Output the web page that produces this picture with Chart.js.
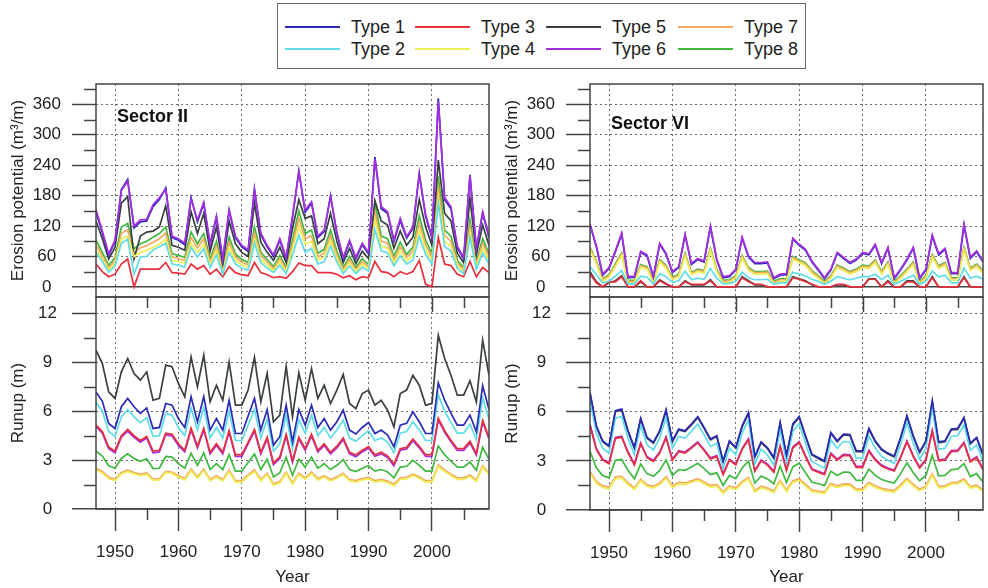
<!DOCTYPE html>
<html lang="en">
<head>
<meta charset="UTF-8">
<title>Erosion potential and runup – Sectors II and VI</title>
<script src="https://cdn.jsdelivr.net/npm/chart.js@4"></script>
<style>
  body { margin: 0; background: #fff; font-family: "Liberation Sans", Arial, sans-serif; }
  #wrap { position: relative; width: 988px; height: 588px; overflow: hidden; }
  canvas { position: absolute; top: 0; }
  #legend { position: absolute; left: 277px; top: 3px; width: 529px; height: 66px; border: 1px solid #666; box-sizing: border-box; }
  .key { position: absolute; height: 2px; width: 55px; }
  .lab { position: absolute; font-size: 18px; line-height: 20px; color: #222; white-space: nowrap; }
</style>
</head>
<body>
<div id="wrap">
  <div id="legend"></div>
  <canvas id="epII" width="494" height="588" style="left:0"></canvas>
  <canvas id="ruII" width="494" height="588" style="left:0"></canvas>
  <canvas id="epVI" width="494" height="588" style="left:494px"></canvas>
  <canvas id="ruVI" width="494" height="588" style="left:494px"></canvas>
</div>
<script>
const years = [1947,1948,1949,1950,1951,1952,1953,1954,1955,1956,
  1957,1958,1959,1960,1961,1962,1963,1964,1965,1966,
  1967,1968,1969,1970,1971,1972,1973,1974,1975,1976,
  1977,1978,1979,1980,1981,1982,1983,1984,1985,1986,
  1987,1988,1989,1990,1991,1992,1993,1994,1995,1996,
  1997,1998,1999,2000,2001,2002,2003,2004,2005,2006,
  2007,2008,2009];

const typeNames = ['Type 1','Type 2','Type 3','Type 4','Type 5','Type 6','Type 7','Type 8'];
const typeColors = ['#2b2bb5','#5fdcea','#e8303c','#eeee55','#3a4040','#a32fe0','#f5a860','#3fb83f'];

const yearTicks = [1950,1960,1970,1980,1990,2000];
const yearMinor = [1955,1965,1975,1985,1995,2005];
const erosionTicks = [0,60,120,180,240,300,360];
const erosionMinor = [30,90,150,210,270,330,390];
const runupTicks = [0,3,6,9,12];
const runupMinor = [1.5,4.5,7.5,10.5];

// Sector II, erosion potential (m3/m)
const epII1 = [148,106,62,90,192,212,116,128,130,158,
  172,195,97,92,83,176,128,164,82,137,
  52,150,97,79,70,193,103,79,60,92,
  55,136,229,147,165,97,109,180,105,55,
  89,55,83,65,256,154,145,89,131,96,
  115,224,139,96,372,172,154,77,55,221,
  74,145,97];
const epII2 = [68,50,29,41,86,94,25,59,60,73,
  79,86,45,43,39,78,59,75,38,63,
  25,68,45,37,33,86,48,37,28,43,
  26,63,102,68,76,45,50,80,49,26,
  41,26,39,31,113,71,67,41,61,45,
  53,99,64,45,165,79,71,36,26,98,
  35,67,45];
const epII3 = [45,30,20,25,45,55,0,35,35,35,
  35,48,28,27,25,45,35,42,25,35,
  20,40,28,24,22,48,28,24,18,20,
  17,30,47,42,42,28,28,28,25,18,
  22,14,20,18,50,30,28,20,30,25,
  30,52,5,0,97,45,42,25,20,50,
  20,38,28];
const epII4 = [74,54,34,46,94,100,60,68,72,78,
  84,94,52,50,46,86,68,84,44,72,
  28,78,52,43,38,94,54,43,32,50,
  30,74,120,84,90,53,59,90,56,30,
  48,30,45,35,132,80,76,48,70,51,
  62,112,74,51,175,90,80,42,30,106,
  40,76,52];
const epII5 = [130,95,55,78,165,178,55,100,108,110,
  118,160,82,78,72,148,105,145,70,118,
  45,130,85,68,60,165,88,68,52,78,
  48,115,172,135,140,85,95,145,90,48,
  76,46,70,56,170,130,122,76,110,82,
  98,172,118,82,250,145,130,66,48,175,
  64,122,82];
const epII6 = [152,110,65,92,190,208,120,132,133,162,
  176,192,100,95,86,173,132,167,85,140,
  55,152,100,82,73,190,106,82,63,95,
  58,140,226,151,168,100,112,177,108,58,
  92,58,86,68,252,158,148,92,135,99,
  118,221,142,99,366,176,158,80,58,218,
  77,148,100];
const epII7 = [83,61,38,52,106,112,68,77,81,88,
  95,106,59,56,52,97,77,95,50,81,
  32,88,59,49,43,106,61,49,36,56,
  34,83,135,95,101,59,67,101,63,34,
  54,34,50,40,148,90,86,54,79,58,
  70,126,83,58,196,101,90,47,34,119,
  45,86,59];
const epII8 = [92,68,42,58,118,125,75,85,90,98,
  105,118,65,62,58,108,85,105,55,90,
  35,98,65,54,48,118,68,54,40,62,
  38,92,150,105,112,66,74,112,70,38,
  60,38,56,44,165,100,95,60,88,64,
  78,140,92,64,218,112,100,52,38,132,
  50,95,65];

// Sector II, runup (m)
const ruII1 = [7.18,6.60,5.25,4.94,6.27,6.78,6.27,5.86,6.20,4.94,
  5.00,6.47,6.37,5.55,5.00,6.88,5.35,6.90,4.84,5.55,
  4.84,6.67,4.63,4.63,5.70,6.78,4.84,6.10,3.92,4.43,
  6.37,4.12,6.10,5.14,6.37,5.00,5.55,4.84,5.35,6.06,
  4.84,4.60,5.00,5.30,4.63,4.84,4.53,3.82,5.14,5.25,
  5.96,5.35,4.63,4.63,7.74,6.67,5.86,5.14,5.14,5.76,
  4.73,7.55,6.10];
const ruII2 = [6.55,6.00,4.75,4.45,5.65,6.10,5.65,5.30,5.60,4.45,
  4.50,5.85,5.75,5.00,4.50,6.20,4.85,6.20,4.35,5.00,
  4.35,6.00,4.20,4.20,5.15,6.10,4.35,5.50,3.55,4.00,
  5.75,3.70,5.50,4.65,5.75,4.50,5.00,4.35,4.85,5.45,
  4.35,4.15,4.50,4.80,4.20,4.35,4.10,3.45,4.65,4.75,
  5.35,4.85,4.20,4.20,7.00,6.00,5.30,4.65,4.65,5.20,
  4.25,6.80,5.50];
const ruII3 = [5.15,4.75,3.80,3.55,4.50,4.88,4.50,4.20,4.45,3.55,
  3.60,4.65,4.58,4.00,3.60,4.95,3.85,4.95,3.48,4.00,
  3.48,4.80,3.33,3.33,4.10,4.88,3.48,4.40,2.82,3.19,
  4.58,2.96,4.40,3.70,4.58,3.60,4.00,3.48,3.85,4.36,
  3.48,3.31,3.60,3.82,3.33,3.48,3.26,2.75,3.70,3.78,
  4.29,3.85,3.33,3.33,5.57,4.80,4.22,3.70,3.70,4.15,
  3.40,5.44,4.39];
const ruII4 = [2.40,2.20,1.85,1.75,2.15,2.30,2.15,2.05,2.12,1.75,
  1.78,2.22,2.18,1.95,1.78,2.35,1.88,2.36,1.72,1.95,
  1.72,2.28,1.65,1.65,2.00,2.30,1.72,2.10,1.45,1.60,
  2.18,1.52,2.10,1.82,2.18,1.78,1.95,1.72,1.88,2.10,
  1.72,1.65,1.78,1.85,1.65,1.72,1.62,1.42,1.82,1.85,
  2.05,1.88,1.65,1.65,2.60,2.30,2.05,1.82,1.82,2.00,
  1.68,2.55,2.10];
const ruII5 = [9.74,8.92,7.18,6.78,8.41,9.23,8.31,7.90,8.41,6.67,
  6.78,8.82,8.72,7.70,6.88,9.33,7.49,9.43,6.57,7.59,
  6.67,9.02,6.37,6.37,7.30,9.30,6.57,8.31,5.35,5.76,
  8.76,5.65,8.35,6.67,8.61,6.78,7.59,6.47,7.29,8.25,
  6.47,6.16,7.08,7.29,6.37,6.67,6.06,5.04,7.08,7.29,
  8.20,7.59,6.37,6.47,10.65,9.23,8.20,6.98,6.98,7.86,
  6.57,10.35,8.20];
const ruII6 = [5.05,4.65,3.70,3.45,4.40,4.78,4.40,4.10,4.35,3.45,
  3.50,4.55,4.48,3.90,3.50,4.85,3.75,4.85,3.38,3.90,
  3.38,4.70,3.23,3.23,4.00,4.78,3.38,4.30,2.72,3.09,
  4.48,2.86,4.30,3.60,4.48,3.50,3.90,3.38,3.75,4.26,
  3.38,3.21,3.50,3.72,3.23,3.38,3.16,2.65,3.60,3.68,
  4.19,3.75,3.23,3.23,5.47,4.70,4.12,3.60,3.60,4.05,
  3.30,5.34,4.29];
const ruII7 = [2.50,2.30,1.94,1.84,2.24,2.40,2.24,2.14,2.21,1.84,
  1.87,2.31,2.27,2.04,1.87,2.45,1.97,2.46,1.81,2.04,
  1.81,2.38,1.74,1.74,2.09,2.40,1.81,2.19,1.54,1.69,
  2.27,1.61,2.19,1.91,2.27,1.87,2.04,1.81,1.97,2.19,
  1.81,1.74,1.87,1.94,1.74,1.81,1.71,1.51,1.91,1.94,
  2.14,1.97,1.74,1.74,2.70,2.40,2.14,1.91,1.91,2.09,
  1.77,2.65,2.19];
const ruII8 = [3.55,3.25,2.65,2.50,3.10,3.38,3.10,2.92,3.08,2.48,
  2.50,3.22,3.18,2.78,2.50,3.42,2.68,3.44,2.42,2.78,
  2.42,3.32,2.32,2.32,2.85,3.38,2.42,3.05,1.96,2.22,
  3.18,2.06,3.05,2.57,3.18,2.50,2.78,2.42,2.68,3.03,
  2.42,2.30,2.50,2.65,2.32,2.42,2.27,1.91,2.57,2.62,
  2.98,2.68,2.32,2.32,3.87,3.33,2.93,2.57,2.57,2.88,
  2.37,3.78,3.05];

// Sector VI, erosion potential (m3/m)
const epVI1 = [122,79,23,36,69,104,18,19,68,61,
  19,84,64,28,38,102,44,54,49,117,
  53,18,20,33,96,59,46,46,47,16,
  23,24,94,82,72,49,33,16,33,66,
  56,46,53,66,63,82,46,76,16,33,
  53,76,16,33,100,63,74,26,26,121,
  56,69,49];
const epVI2 = [40,24,8,11,21,32,6,6,21,19,
  6,26,20,9,12,31,14,17,15,36,
  17,6,7,11,29,18,14,14,15,5,
  8,8,29,25,22,15,11,5,11,20,
  17,14,17,20,20,25,14,23,5,11,
  17,23,5,11,31,20,23,8,8,37,
  17,21,15];
const epVI3 = [25,8,0,10,10,20,0,0,12,0,
  0,12,5,0,0,10,5,5,5,12,
  0,0,0,0,18,10,5,5,0,0,
  0,0,18,15,10,5,0,0,0,5,
  5,0,0,0,15,15,0,10,0,0,
  10,10,0,0,18,0,0,0,0,18,
  0,0,0];
const epVI4 = [73,46,11,19,40,62,8,8,39,35,
  8,49,37,14,20,61,24,30,27,71,
  30,8,9,17,57,33,25,25,26,6,
  11,11,55,48,42,27,17,6,17,38,
  32,25,30,38,36,48,25,44,6,17,
  30,44,6,17,59,36,43,13,13,73,
  32,40,27];
const epVI5 = [30,10,0,8,12,22,0,0,10,0,
  0,14,6,0,0,12,4,4,4,14,
  0,0,0,0,20,12,4,4,0,0,
  0,0,20,16,12,4,0,0,0,4,
  4,0,0,0,16,16,0,12,0,0,
  12,12,0,0,20,0,0,0,0,20,
  0,0,0];
const epVI6 = [124,81,25,38,71,106,20,21,70,63,
  21,86,66,30,40,104,46,56,51,120,
  55,20,22,35,98,61,48,48,49,18,
  25,26,96,84,74,51,35,18,35,68,
  58,48,55,68,65,84,48,78,18,35,
  55,78,18,35,102,65,76,28,28,124,
  58,71,51];
const epVI7 = [76,49,14,22,43,65,11,11,42,38,
  11,52,40,17,23,64,27,33,30,74,
  33,11,12,20,60,36,28,28,29,9,
  14,14,58,51,45,30,20,9,20,41,
  35,28,33,41,39,51,28,47,9,20,
  33,47,9,20,62,39,46,16,16,76,
  35,43,30];
const epVI8 = [78,51,16,24,45,67,13,13,44,40,
  13,54,42,19,25,66,29,35,32,76,
  35,13,14,22,62,38,30,30,31,11,
  16,16,60,53,47,32,22,11,22,43,
  37,30,35,43,41,53,30,49,11,22,
  35,49,11,22,64,41,48,18,18,78,
  37,45,32];

// Sector VI, runup (m)
const ruVI1 = [7.18,5.14,4.22,3.92,6.06,6.16,4.84,3.82,5.60,4.43,
  4.12,4.84,6.12,4.22,4.94,4.84,5.25,5.70,5.04,4.33,
  4.53,3.00,4.22,3.82,5.14,5.96,3.27,4.16,3.80,3.20,
  5.35,3.35,5.25,5.71,4.53,3.41,3.20,3.00,4.73,4.22,
  4.63,4.60,3.61,3.61,4.98,4.22,3.72,3.47,3.30,4.43,
  5.76,4.53,3.55,4.22,6.67,4.16,4.22,4.94,4.98,5.65,
  4.08,4.43,3.40];
const ruVI2 = [6.73,4.69,3.77,3.47,5.61,5.71,4.39,3.37,5.15,3.98,
  3.67,4.39,5.67,3.77,4.49,4.39,4.80,5.25,4.59,3.88,
  4.08,2.55,3.77,3.37,4.69,5.51,2.82,3.71,3.35,2.75,
  4.90,2.90,4.80,5.26,4.08,2.96,2.75,2.55,4.28,3.77,
  4.18,4.15,3.16,3.16,4.53,3.77,3.27,3.02,2.85,3.98,
  5.31,4.08,3.10,3.77,6.22,3.71,3.77,4.49,4.53,5.20,
  3.63,3.98,2.95];
const ruVI3 = [5.17,3.70,3.04,2.82,4.36,4.44,3.48,2.75,4.03,3.19,
  2.97,3.48,4.41,3.04,3.56,3.48,3.78,4.10,3.63,3.12,
  3.26,2.16,3.04,2.75,3.70,4.29,2.35,3.00,2.74,2.30,
  3.85,2.41,3.78,4.11,3.26,2.46,2.30,2.16,3.41,3.04,
  3.33,3.31,2.60,2.60,3.59,3.04,2.68,2.50,2.38,3.19,
  4.15,3.26,2.56,3.04,4.80,3.00,3.04,3.56,3.59,4.07,
  2.94,3.19,2.45];
const ruVI4 = [2.25,1.64,1.37,1.28,1.92,1.95,1.55,1.25,1.78,1.43,
  1.34,1.55,1.94,1.37,1.58,1.55,1.68,1.81,1.61,1.40,
  1.46,1.00,1.37,1.25,1.64,1.89,1.08,1.35,1.24,1.06,
  1.71,1.11,1.68,1.81,1.46,1.12,1.06,1.00,1.52,1.37,
  1.49,1.48,1.18,1.18,1.59,1.37,1.22,1.14,1.09,1.43,
  1.83,1.46,1.17,1.37,2.10,1.35,1.37,1.58,1.59,1.80,
  1.32,1.43,1.12];
const ruVI5 = [7.12,5.08,4.17,3.87,6.00,6.10,4.79,3.77,5.54,4.38,
  4.07,4.79,6.06,4.17,4.89,4.79,5.19,5.64,4.98,4.28,
  4.48,2.95,4.17,3.77,5.08,5.90,3.22,4.11,3.75,3.15,
  5.29,3.30,5.19,5.65,4.48,3.36,3.15,2.95,4.68,4.17,
  4.58,4.55,3.56,3.56,4.92,4.17,3.67,3.42,3.25,4.38,
  5.70,4.48,3.50,4.17,6.60,4.11,4.17,4.89,4.92,5.59,
  4.03,4.38,3.35];
const ruVI6 = [5.23,3.76,3.10,2.88,4.42,4.50,3.54,2.81,4.09,3.25,
  3.03,3.54,4.47,3.10,3.62,3.54,3.84,4.16,3.69,3.18,
  3.32,2.22,3.10,2.81,3.76,4.35,2.41,3.06,2.80,2.36,
  3.91,2.47,3.84,4.17,3.32,2.52,2.36,2.22,3.47,3.10,
  3.39,3.37,2.66,2.66,3.65,3.10,2.74,2.56,2.44,3.25,
  4.21,3.32,2.62,3.10,4.86,3.06,3.10,3.62,3.65,4.13,
  3.00,3.25,2.51];
const ruVI7 = [2.35,1.74,1.47,1.38,2.02,2.05,1.65,1.35,1.88,1.53,
  1.44,1.65,2.04,1.47,1.68,1.65,1.78,1.91,1.71,1.50,
  1.56,1.10,1.47,1.35,1.74,1.99,1.18,1.45,1.34,1.16,
  1.81,1.21,1.78,1.91,1.56,1.22,1.16,1.10,1.62,1.47,
  1.59,1.58,1.28,1.28,1.69,1.47,1.32,1.24,1.19,1.53,
  1.93,1.56,1.27,1.47,2.20,1.45,1.47,1.68,1.69,1.90,
  1.42,1.53,1.22];
const ruVI8 = [3.59,2.57,2.11,1.96,3.03,3.08,2.42,1.91,2.80,2.22,
  2.06,2.42,3.06,2.11,2.47,2.42,2.63,2.85,2.52,2.17,
  2.27,1.50,2.11,1.91,2.57,2.98,1.64,2.08,1.90,1.60,
  2.68,1.68,2.63,2.86,2.27,1.71,1.60,1.50,2.37,2.11,
  2.32,2.30,1.81,1.81,2.49,2.11,1.86,1.74,1.65,2.22,
  2.88,2.27,1.78,2.11,3.34,2.08,2.11,2.47,2.49,2.83,
  2.04,2.22,1.70];

const FONT = 'Liberation Sans, Arial, sans-serif';
const INK = '#222';
const AXIS = '#444';

// legend: two rows, Type 1/3/5/7 on top, 2/4/6/8 below
const legend = document.getElementById('legend');
const colX = [7, 137, 268, 400];
const rowY = [23, 45];
typeNames.forEach((name, i) => {
  const col = Math.floor(i / 2), row = i % 2;
  const key = document.createElement('div');
  key.className = 'key';
  key.style.left = colX[col] + 'px';
  key.style.top = (rowY[row] - 1) + 'px';
  key.style.background = typeColors[i];
  legend.appendChild(key);
  const lab = document.createElement('div');
  lab.className = 'lab';
  lab.textContent = name;
  lab.style.left = (colX[col] + 66) + 'px';
  lab.style.top = (rowY[row] - 10) + 'px';
  legend.appendChild(lab);
});

// frame, minor ticks and sector label
const decor = {
  id: 'decor',
  afterDraw(chart, args, o) {
    const { ctx, chartArea: a, scales: { x, y } } = chart;
    ctx.save();
    ctx.strokeStyle = AXIS;
    ctx.lineWidth = 1.5;
    ctx.strokeRect(a.left, a.top, a.right - a.left, a.bottom - a.top);
    ctx.beginPath();
    o.minorY.forEach(v => {
      const p = Math.round(y.getPixelForValue(v)) + 0.5;
      ctx.moveTo(a.left - 12, p); ctx.lineTo(a.left, p);
    });
    if (o.xTicks) {
      yearMinor.forEach(v => {
        const p = Math.round(x.getPixelForValue(v)) + 0.5;
        ctx.moveTo(p, a.bottom); ctx.lineTo(p, a.bottom + 11);
        ctx.moveTo(p, a.top); ctx.lineTo(p, a.top + 11);
      });
      yearTicks.forEach(v => {
        const p = Math.round(x.getPixelForValue(v)) + 0.5;
        ctx.moveTo(p, a.top); ctx.lineTo(p, a.top + 15);
      });
    }
    ctx.stroke();
    if (o.label) {
      ctx.fillStyle = '#111';
      ctx.font = 'bold 18px ' + FONT;
      ctx.textBaseline = 'middle';
      ctx.fillText(o.label, a.left + 21, a.top + o.labelDy);
    }
    ctx.restore();
  }
};

function panel(id, series, p) {
  return new Chart(document.getElementById(id), {
    type: 'line',
    data: {
      labels: years,
      datasets: series.map((d, i) => ({
        label: typeNames[i],
        data: d,
        borderColor: typeColors[i],
        borderWidth: 1.7,
        pointRadius: 0,
        tension: 0,
        fill: false,
        // purple sits on top of the blue in the erosion panels
        order: (p.purpleOnTop && i === 5) ? -1 : 0
      }))
    },
    options: {
      responsive: false,
      animation: false,
      events: [],
      layout: { padding: { left: 0, right: 5, top: p.top, bottom: p.bottom } },
      plugins: {
        legend: { display: false },
        tooltip: { enabled: false },
        decor: { minorY: p.minorY, xTicks: p.xLabels, label: p.label, labelDy: p.labelDy || 0 }
      },
      scales: {
        x: {
          type: 'linear',
          min: 1947,
          max: 2009,
          afterBuildTicks: s => { s.ticks = yearTicks.map(v => ({ value: v })); },
          afterFit: s => { s.height = p.xHeight; },
          ticks: {
            display: p.xLabels,
            padding: 11,
            maxRotation: 0,
            autoSkip: false,
            color: INK,
            font: { family: FONT, size: 17 },
            callback: v => String(v)
          },
          grid: { color: '#6a6a6a', lineWidth: 1, drawTicks: p.xLabels, tickLength: 22, tickColor: AXIS, tickWidth: 1.5 },
          border: { display: false, dash: [2, 3] },
          title: {
            display: p.xLabels,
            text: 'Year',
            color: INK,
            font: { family: FONT, size: 17 },
            padding: { top: 0, bottom: 0 }
          }
        },
        y: {
          min: p.yMin,
          max: p.yMax,
          afterBuildTicks: s => { s.ticks = p.yTicks.map(v => ({ value: v })); },
          afterFit: s => { s.width = 96; },
          ticks: {
            padding: p.tickPad,
            crossAlign: 'center',
            color: INK,
            font: { family: FONT, size: 17 },
            callback: v => String(v)
          },
          grid: {
            color: c => (c.tick && c.tick.value === 0 ? AXIS : '#6a6a6a'),
            lineWidth: c => (c.tick && c.tick.value === 0 ? 1.5 : 1),
            tickLength: 24,
            tickColor: AXIS,
            tickWidth: 1.5
          },
          border: { display: false, dash: c => (c.tick && c.tick.value === 0 ? [] : [2, 3]) },
          title: {
            display: true,
            text: p.yTitle,
            color: INK,
            font: { family: FONT, size: 17 },
            padding: { top: 8, bottom: 0 }
          }
        }
      }
    },
    plugins: [decor]
  });
}

const erosionBase = {
  top: 84, bottom: 291, xHeight: 0, xLabels: false, purpleOnTop: true,
  yMin: -20, yMax: 400, yTicks: erosionTicks, minorY: erosionMinor, tickPad: 11,
  yTitle: 'Erosion potential (m³/m)'
};
const runupBase = {
  top: 297, bottom: 0, xHeight: 79, xLabels: true, purpleOnTop: false,
  yMin: 0, yMax: 13, yTicks: runupTicks, minorY: runupMinor, tickPad: 15,
  yTitle: 'Runup (m)'
};

panel('epII', [epII1, epII2, epII3, epII4, epII5, epII6, epII7, epII8], Object.assign({}, erosionBase, { label: 'Sector II', labelDy: 33 }));
panel('ruII', [ruII1, ruII2, ruII3, ruII4, ruII5, ruII6, ruII7, ruII8], Object.assign({}, runupBase, { label: '' }));
panel('epVI', [epVI1, epVI2, epVI3, epVI4, epVI5, epVI6, epVI7, epVI8], Object.assign({}, erosionBase, { label: 'Sector VI', labelDy: 40 }));
panel('ruVI', [ruVI1, ruVI2, ruVI3, ruVI4, ruVI5, ruVI6, ruVI7, ruVI8], Object.assign({}, runupBase, { label: '', xHeight: 78 }));
</script>
</body>
</html>
